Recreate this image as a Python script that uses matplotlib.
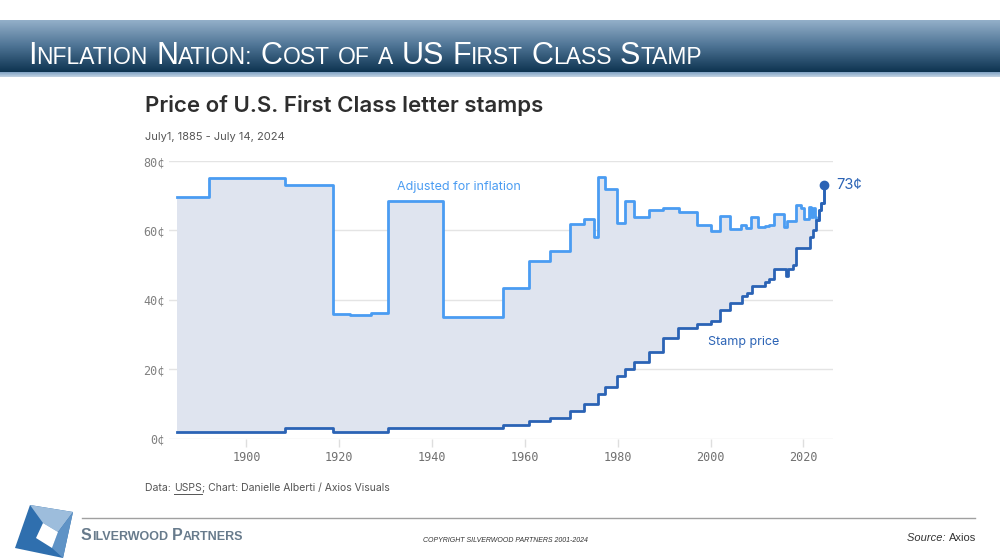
import numpy as np
import matplotlib
matplotlib.use("Agg")
import matplotlib.pyplot as plt
from matplotlib.patches import Polygon

# stamp price (cents) and the year each rate starts
stamp_years = [1885, 1908.2, 1918.6, 1930.6, 1955.3, 1960.8, 1965.4, 1969.7, 1972.8,
               1975.8, 1977.2, 1979.9, 1981.5, 1983.5, 1986.7, 1989.7, 1993.1, 1997.1,
               2000.0, 2002.0, 2004.3, 2006.7, 2007.8, 2008.9, 2011.7, 2012.6, 2013.7,
               2016.2, 2016.7, 2017.8, 2018.5, 2021.4, 2022.1, 2022.8, 2023.4, 2023.9, 2024.5]
stamp_cents = [2, 3, 2, 3, 4, 5, 6, 8, 10,
               13, 15, 18, 20, 22, 25, 29, 32, 33,
               34, 37, 39, 41, 42, 44, 45, 46, 49,
               47, 49, 50, 55, 58, 60, 63, 66, 68, 73]

# inflation adjusted price (cents)
adj_years = [1885, 1892.0, 1908.2, 1918.6, 1922.3, 1926.9, 1930.6, 1942.4, 1955.3,
             1960.8, 1965.4, 1969.7, 1972.8, 1974.9, 1975.8, 1977.2, 1979.8, 1981.6,
             1983.5, 1986.7, 1989.8, 1993.2, 1997.1, 2000.0, 2002.0, 2004.2, 2006.6,
             2007.6, 2008.8, 2010.2, 2011.7, 2012.7, 2013.6, 2015.9, 2016.5, 2018.5,
             2019.6, 2020.2, 2021.2, 2021.7, 2022.1, 2022.5, 2022.8, 2023.4, 2023.9, 2024.5]
adj_cents = [69.5, 75.1, 73.2, 35.9, 35.5, 36.1, 68.6, 35.2, 43.3,
             51.1, 54.0, 61.8, 63.3, 58.0, 75.5, 71.9, 62.0, 68.6,
             63.8, 65.9, 66.4, 65.4, 61.7, 59.9, 64.1, 60.4, 61.5,
             60.6, 63.9, 61.1, 61.4, 61.5, 64.6, 61.1, 62.6, 67.2,
             66.5, 63.2, 66.8, 64.0, 66.6, 64.0, 63, 66, 68, 73]

x_ticks = [1900, 1920, 1940, 1960, 1980, 2000, 2020]
y_ticks = [0, 20, 40, 60, 80]

DARK = "#2b63b5"
LIGHT = "#4a9cf2"
FILL = "#dfe4ef"
SANS = ["Inter", "DejaVu Sans"]
NARROW = ["Liberation Sans Narrow", "Liberation Sans", "DejaVu Sans"]


def step_at(xs, years, vals):
    idx = np.searchsorted(years, xs, side="right") - 1
    return np.array(vals)[np.clip(idx, 0, len(vals) - 1)]


def run_text(fig, bg, x, y, pieces, gap=0, **kw):
    # draw text pieces one after another, returns list of (x0, x1) in pixels
    renderer = fig.canvas.get_renderer()
    spans = []
    for s, extra in pieces:
        opts = dict(kw)
        opts.update(extra)
        t = bg.text(x, y, s, ha="left", **opts)
        w = t.get_window_extent(renderer).width
        spans.append((x, x + w))
        x += w + gap
    return spans


def small_caps(fig, bg, x, y, text, big, small, **kw):
    # capitals at big size, the rest upper-cased at small size
    renderer = fig.canvas.get_renderer()
    groups = []
    for ch in text:
        kind = "sp" if ch == " " else ("big" if ch.isupper() else "small")
        if groups and groups[-1][0] == kind:
            groups[-1][1] += ch
        else:
            groups.append([kind, ch])
    for kind, s in groups:
        if kind == "sp":
            x += 0.27 * big * 100 / 72 * len(s)
            continue
        size = big if kind == "big" else small
        t = bg.text(x, y, s.upper(), fontsize=size, va="baseline", ha="left", **kw)
        x += t.get_window_extent(renderer).width


fig = plt.figure(figsize=(10, 5.6), dpi=100)
fig.patch.set_facecolor("white")

# background axes in pixel coords
bg = fig.add_axes([0, 0, 1, 1])
bg.set_xlim(0, 1000)
bg.set_ylim(560, 0)
bg.axis("off")

# header banner
grad = np.linspace(0, 1, 100)[:, None]
cmap = matplotlib.colors.LinearSegmentedColormap.from_list("hdr", ["#93afc9", "#4d7394", "#0e3451"])
bg.imshow(grad, extent=(0, 1000, 72, 20), cmap=cmap, aspect="auto", zorder=0)
cmap2 = matplotlib.colors.LinearSegmentedColormap.from_list("strip", ["#7fa2c3", "#c3d4e4"])
bg.imshow(grad, extent=(0, 1000, 77, 72), cmap=cmap2, aspect="auto", zorder=0)

small_caps(fig, bg, 28, 64, "Inflation Nation: Cost of a US First Class Stamp", 22, 16.5,
           color="white", family=NARROW)

# chart title & subtitle
bg.text(145, 106, "Price of U.S. First Class letter stamps", fontsize=16, color="#2e2e2e",
        family=SANS, fontweight="semibold", va="center")
bg.text(145, 137, "July1, 1885 - July 14, 2024", fontsize=8, color="#555555",
        family=SANS, va="center")

# main chart
ax = fig.add_axes([0.169, 1 - 438.7 / 560, 0.664, 277.7 / 560])
ax.set_xlim(1883.3, 2026.4)
ax.set_ylim(0, 80)

grid_x = np.unique(np.concatenate([stamp_years, adj_years]))
lo = step_at(grid_x, stamp_years, stamp_cents)
hi = step_at(grid_x, adj_years, adj_cents)
ax.fill_between(grid_x, lo, hi, step="post", color=FILL, lw=0, zorder=1)
ax.step(adj_years, adj_cents, where="post", color=LIGHT, lw=2, zorder=3, clip_on=False)
ax.step(stamp_years, stamp_cents, where="post", color=DARK, lw=2, zorder=4, clip_on=False)
ax.plot(stamp_years[-1], stamp_cents[-1], "o", color=DARK, ms=6, zorder=5, clip_on=False)

ax.text(stamp_years[-1] + 2.5, stamp_cents[-1], "%d¢" % stamp_cents[-1], color=DARK,
        fontsize=10.5, va="center", family=SANS)
ax.text(1932.5, 72.5, "Adjusted for inflation", color=LIGHT, fontsize=9, va="center", family=SANS)
ax.text(1999.5, 27.8, "Stamp price", color=DARK, fontsize=9, va="center", family=SANS)

for s in ax.spines.values():
    s.set_visible(False)
ax.set_yticks(y_ticks)
ax.set_yticklabels(["%d¢" % v for v in y_ticks])
ax.set_xticks(x_ticks)
ax.set_xticklabels([str(v) for v in x_ticks])
ax.yaxis.grid(True, color="#e4e4e4", lw=1)
ax.set_axisbelow(True)
ax.tick_params(axis="y", length=0, pad=3, labelsize=8.5, labelcolor="#808080")
ax.tick_params(axis="x", length=6, width=1, color="#dedede", pad=3, labelsize=8.5, labelcolor="#707070")
for lab in ax.get_xticklabels() + ax.get_yticklabels():
    lab.set_family("DejaVu Sans Mono")

# source line
spans = run_text(fig, bg, 145, 488, [("Data: ", {}), ("USPS", {}),
                                     ("; Chart: Danielle Alberti / Axios Visuals", {})],
                 fontsize=7.5, color="#555555", family=SANS, va="center")
bg.plot([spans[1][0], spans[1][1]], [494, 494], color="#555555", lw=0.7)

# footer
bg.plot([82, 975], [518, 518], color="#a0a0a0", lw=1)
bg.add_patch(Polygon([(30, 505), (73, 512), (63, 558), (15, 548)], closed=True, color="#2f6fae", lw=0))
bg.add_patch(Polygon([(30, 505), (73, 512), (58, 532), (43, 523)], closed=True, color="#9dbddc", lw=0))
bg.add_patch(Polygon([(73, 512), (63, 558), (52, 548), (58, 532)], closed=True, color="#5f93c6", lw=0))
bg.add_patch(Polygon([(43, 523), (58, 532), (52, 548), (36, 538)], closed=True, color="white", lw=0))
small_caps(fig, bg, 81, 540, "Silverwood Partners", 11.5, 9, color="#687b8c",
           family=NARROW, fontweight="bold")
bg.text(505, 540, "COPYRIGHT SILVERWOOD PARTNERS 2001-2024", fontsize=5, style="italic",
        color="#333333", ha="center", va="center", family=NARROW)
run_text(fig, bg, 907, 538, [("Source: ", {"style": "italic"}), ("Axios", {})],
         fontsize=8, color="#333333", va="center", family=NARROW)

fig.savefig("out.png", dpi=100)
